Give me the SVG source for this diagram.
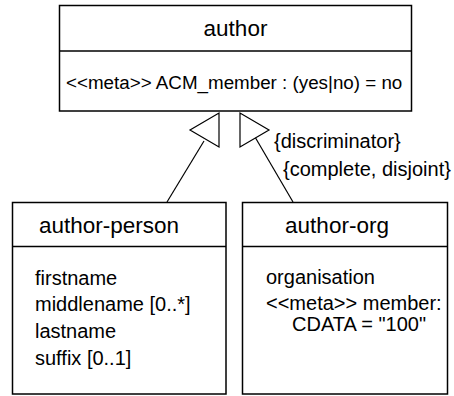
<svg xmlns="http://www.w3.org/2000/svg" width="454" height="396" viewBox="0 0 454 396">
<style>
.box{fill:#fff;stroke:#000;stroke-width:1.5}
.div{stroke:#000;stroke-width:1.5}
.title{font-family:"Liberation Sans",Arial,sans-serif;font-size:22.5px;text-anchor:middle;fill:#000}
.attr{font-family:"Liberation Sans",Arial,sans-serif;font-size:20px;fill:#000}
.meta{font-family:"Liberation Sans",Arial,sans-serif;font-size:18.8px;fill:#000}
.lbl{font-family:"Liberation Sans",Arial,sans-serif;font-size:20px;fill:#000}
.conn{stroke:#000;stroke-width:1.2;fill:none}
.tri{fill:#fff;stroke:#000;stroke-width:1.2}
</style>
<g id="author">
<rect class="box" x="59.5" y="5.5" width="352" height="105.5"/>
<line class="div" x1="59.5" y1="51" x2="411.5" y2="51"/>
<text class="title" x="235.5" y="36">author</text>
<text class="meta" x="66" y="89">&lt;&lt;meta&gt;&gt; ACM_member : (yes|no) = no</text>
</g>
<g id="author-person">
<rect class="box" x="12.5" y="202.5" width="213.5" height="191.5"/>
<line class="div" x1="12.5" y1="246.5" x2="226" y2="246.5"/>
<text class="title" x="109" y="233">author-person</text>
<text class="attr" x="35" y="285">firstname</text>
<text class="attr" x="35" y="311">middlename [0..*]</text>
<text class="attr" x="35" y="338">lastname</text>
<text class="attr" x="35" y="365">suffix [0..1]</text>
</g>
<g id="author-org">
<rect class="box" x="242.5" y="202.5" width="205" height="191.5"/>
<line class="div" x1="242.5" y1="246.5" x2="447.5" y2="246.5"/>
<text class="title" x="337" y="233">author-org</text>
<text class="attr" x="266" y="284">organisation</text>
<text class="attr" x="266" y="310">&lt;&lt;meta&gt;&gt; member:</text>
<text class="attr" x="292" y="331">CDATA = "100"</text>
</g>
<g id="connectors">
<line class="conn" x1="204" y1="141" x2="167" y2="202"/>
<line class="conn" x1="255" y1="137" x2="293" y2="202"/>
<polygon class="tri" points="219,113 219,147 190,130"/>
<polygon class="tri" points="240,113 240,147 269,130"/>
<text class="lbl" x="274" y="148">{discriminator}</text>
<text class="lbl" x="283" y="176">{complete, disjoint}</text>
</g>
</svg>
